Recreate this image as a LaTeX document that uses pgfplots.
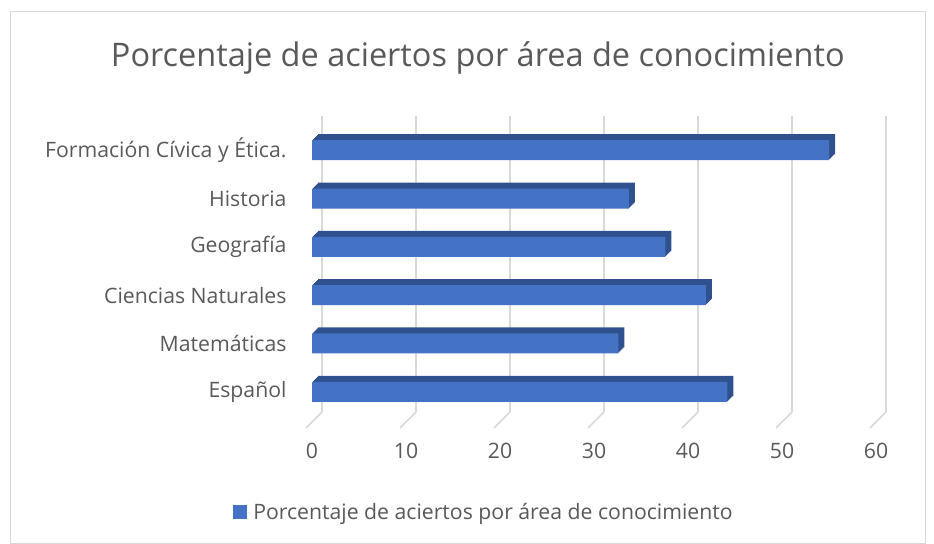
\documentclass[border=0pt]{standalone}
\usepackage{pgfplots}
\pgfplotsset{compat=1.18}
\usepackage{fontspec}
\setmainfont{Open Sans}
\definecolor{barc}{HTML}{4472C4}
\definecolor{bard}{HTML}{2F528F}
\definecolor{txt}{HTML}{595959}
\definecolor{gridc}{HTML}{D9D9D9}
\begin{document}
\begin{tikzpicture}
\path[use as bounding box] (0,0) rectangle (934bp,544bp);
\draw[gridc, line width=1bp] (10bp,1bp) rectangle (925bp,532bp);
\begin{axis}[
  at={(312bp,116bp)}, anchor=south west,
  scale only axis, width=564bp, height=314bp,
  xmin=0, xmax=60, ymin=-0.75, ymax=5.75,
  xtick={0,10,...,60},
  ytick={0,1,2,3,4,5},
  yticklabels={Español, Matemáticas, Ciencias Naturales, Geografía, Historia, Formación Cívica y Ética.},
  axis line style={draw=none},
  major tick length=0pt,
  /pgf/number format/assume math mode=true,
  tick label style={font=\fontsize{21.3}{25}\selectfont, text=txt},
  xticklabel style={yshift=-12bp},
  yticklabel style={xshift=-22bp},
  title={Porcentaje de aciertos por área de conocimiento},
  title style={font=\fontsize{32.6}{38}\selectfont, text=txt, at={(0.294,1.158)}, anchor=center},
  legend style={at={(0.305,-0.268)}, anchor=center, draw=none, font=\fontsize{21.3}{25}\selectfont, text=txt},
  legend image code/.code={\path (0bp,0bp) -- (18bp,0bp); \fill[barc] (0bp,-7bp) rectangle (14bp,7bp);},
  clip=false,
]
\pgfplotsinvokeforeach{0,10,20,30,40,50,60}{
  \draw[gridc, line width=1.5bp] ([xshift=10bp,yshift=16bp]axis cs:#1,-0.75) -- ([xshift=10bp]axis cs:#1,5.7);
  \draw[gridc, line width=1.5bp] ([xshift=-6bp]axis cs:#1,-0.75) -- ([xshift=10bp,yshift=16bp]axis cs:#1,-0.75);
}
\pgfplotsinvokeforeach{1,2,3,4,5,6}{
\addplot[xbar, bar width=20bp, fill=bard, draw=none, xshift=#1bp, yshift=#1bp, forget plot]
  coordinates {(44.2,0) (32.6,1) (41.9,2) (37.6,3) (33.7,4) (55.0,5)};
}
\addplot[xbar, bar width=20bp, fill=barc, draw=none]
  coordinates {(44.2,0) (32.6,1) (41.9,2) (37.6,3) (33.7,4) (55.0,5)};
\addlegendentry{Porcentaje de aciertos por área de conocimiento}
\end{axis}
\end{tikzpicture}
\end{document}
